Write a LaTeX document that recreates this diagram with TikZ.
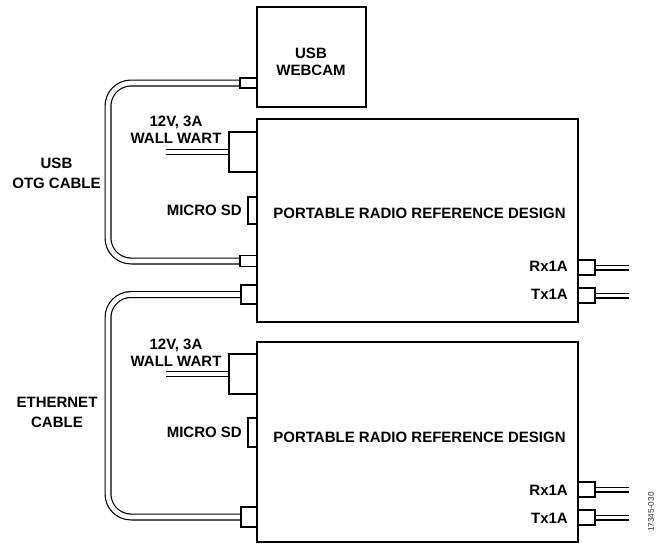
\documentclass[tikz,border=0pt]{standalone}
\usepackage{fontspec}
\setmainfont{Liberation Sans}
\pgfdeclarelayer{background}
\pgfsetlayers{background,main}
\begin{document}
\begin{tikzpicture}[x=1pt,y=-1pt,
  lbl/.style={font=\bfseries\fontsize{15}{16.5}\selectfont, inner sep=0pt, align=center},
  board/.style={draw, line width=2pt, inner sep=0pt, outer sep=0pt},
  conn/.style={draw, fill=white, line width=1.3pt, inner sep=0pt, outer sep=0pt},
  cable/.style={draw=black, double=white, line width=1.2pt, double distance=4.6pt},
  thincable/.style={draw=black, double=white, line width=1.1pt, double distance=3.8pt},
]
\useasboundingbox (0,0) rectangle (661,544);

% boards
\node[board, minimum width=109pt, minimum height=100pt] (webcam) at (311.5,57) {};
\node[board, minimum width=321pt, minimum height=203pt] (board1) at (417.5,220.5) {};
\node[board, minimum width=321pt, minimum height=200pt] (board2) at (417.5,442) {};

% connectors
\node[conn, minimum width=17pt, minimum height=10pt] (usbW) at (248.5,83) {};
\node[conn, minimum width=17pt, minimum height=11pt] (usbB) at (248.5,261) {};
\node[conn, minimum width=16pt, minimum height=19pt] (eth1) at (249,294.5) {};
\node[conn, minimum width=16pt, minimum height=20pt] (eth2) at (249,517) {};
\node[conn, minimum width=28pt, minimum height=40pt] (ww1) at (243,152) {};
\node[conn, minimum width=28pt, minimum height=40pt] (ww2) at (243,374) {};
\node[conn, minimum width=9pt, minimum height=27pt] (sd1) at (252.5,210.5) {};
\node[conn, minimum width=9pt, minimum height=29pt] (sd2) at (252.5,432.5) {};
\node[conn, minimum width=17pt, minimum height=15pt] (rx1) at (586.5,267.5) {};
\node[conn, minimum width=17pt, minimum height=15pt] (tx1) at (586.5,295.5) {};
\node[conn, minimum width=17pt, minimum height=15pt] (rx2) at (586.5,489.5) {};
\node[conn, minimum width=17pt, minimum height=15pt] (tx2) at (586.5,517.5) {};

% free cable ends
\coordinate (wwend1) at (166,152);
\coordinate (wwend2) at (166,374);
\coordinate (rxend1) at (629,267.5);
\coordinate (txend1) at (629,295.5);
\coordinate (rxend2) at (629,489.5);
\coordinate (txend2) at (629,517.5);

% cables
\begin{pgfonlayer}{background}
\draw[cable, rounded corners=23pt] (usbW.west) -| ([xshift=-132pt]usbB.west) -- (usbB.west);
\draw[cable, rounded corners=23pt] (eth1.west) -| ([xshift=-133pt]eth2.west) -- (eth2.west);
\draw[thincable] (ww1.west) -- (wwend1);
\draw[thincable] (ww2.west) -- (wwend2);
\draw[thincable] (rx1.east) -- (rxend1);
\draw[thincable] (tx1.east) -- (txend1);
\draw[thincable] (rx2.east) -- (rxend2);
\draw[thincable] (tx2.east) -- (txend2);
\end{pgfonlayer}

% labels
\node[lbl] (camtxt) at (311,62) {USB\\[1pt]WEBCAM};
\node[lbl] (title1) at (419.5,213) {PORTABLE RADIO REFERENCE DESIGN};
\node[lbl] (title2) at (419.5,437) {PORTABLE RADIO REFERENCE DESIGN};
\node[lbl] (ww1lbl) at (176,130) {12V, 3A\\WALL WART};
\node[lbl] (ww2lbl) at (176,353) {12V, 3A\\WALL WART};
\node[lbl, anchor=east] (sd1lbl) at ([xshift=-6pt]sd1.west) {MICRO SD};
\node[lbl, anchor=east] (sd2lbl) at ([xshift=-6pt]sd2.west) {MICRO SD};
\node[lbl, anchor=east] (rx1lbl) at ([xshift=-10pt,yshift=1pt]rx1.west) {Rx1A};
\node[lbl, anchor=east] (tx1lbl) at ([xshift=-10pt,yshift=1pt]tx1.west) {Tx1A};
\node[lbl, anchor=east] (rx2lbl) at ([xshift=-10pt,yshift=-0.5pt]rx2.west) {Rx1A};
\node[lbl, anchor=east] (tx2lbl) at ([xshift=-10pt,yshift=-0.5pt]tx2.west) {Tx1A};
\node[lbl] (usblbl) at (56.5,173.5) {USB\\[3pt]OTG CABLE};
\node[lbl] (ethlbl) at (57,412.5) {ETHERNET\\[3pt]CABLE};
\node[font=\fontsize{8.3}{9}\selectfont, text=black!80, rotate=90, inner sep=0pt] (fignum) at (651,512) {17345-030};
\end{tikzpicture}
\end{document}
